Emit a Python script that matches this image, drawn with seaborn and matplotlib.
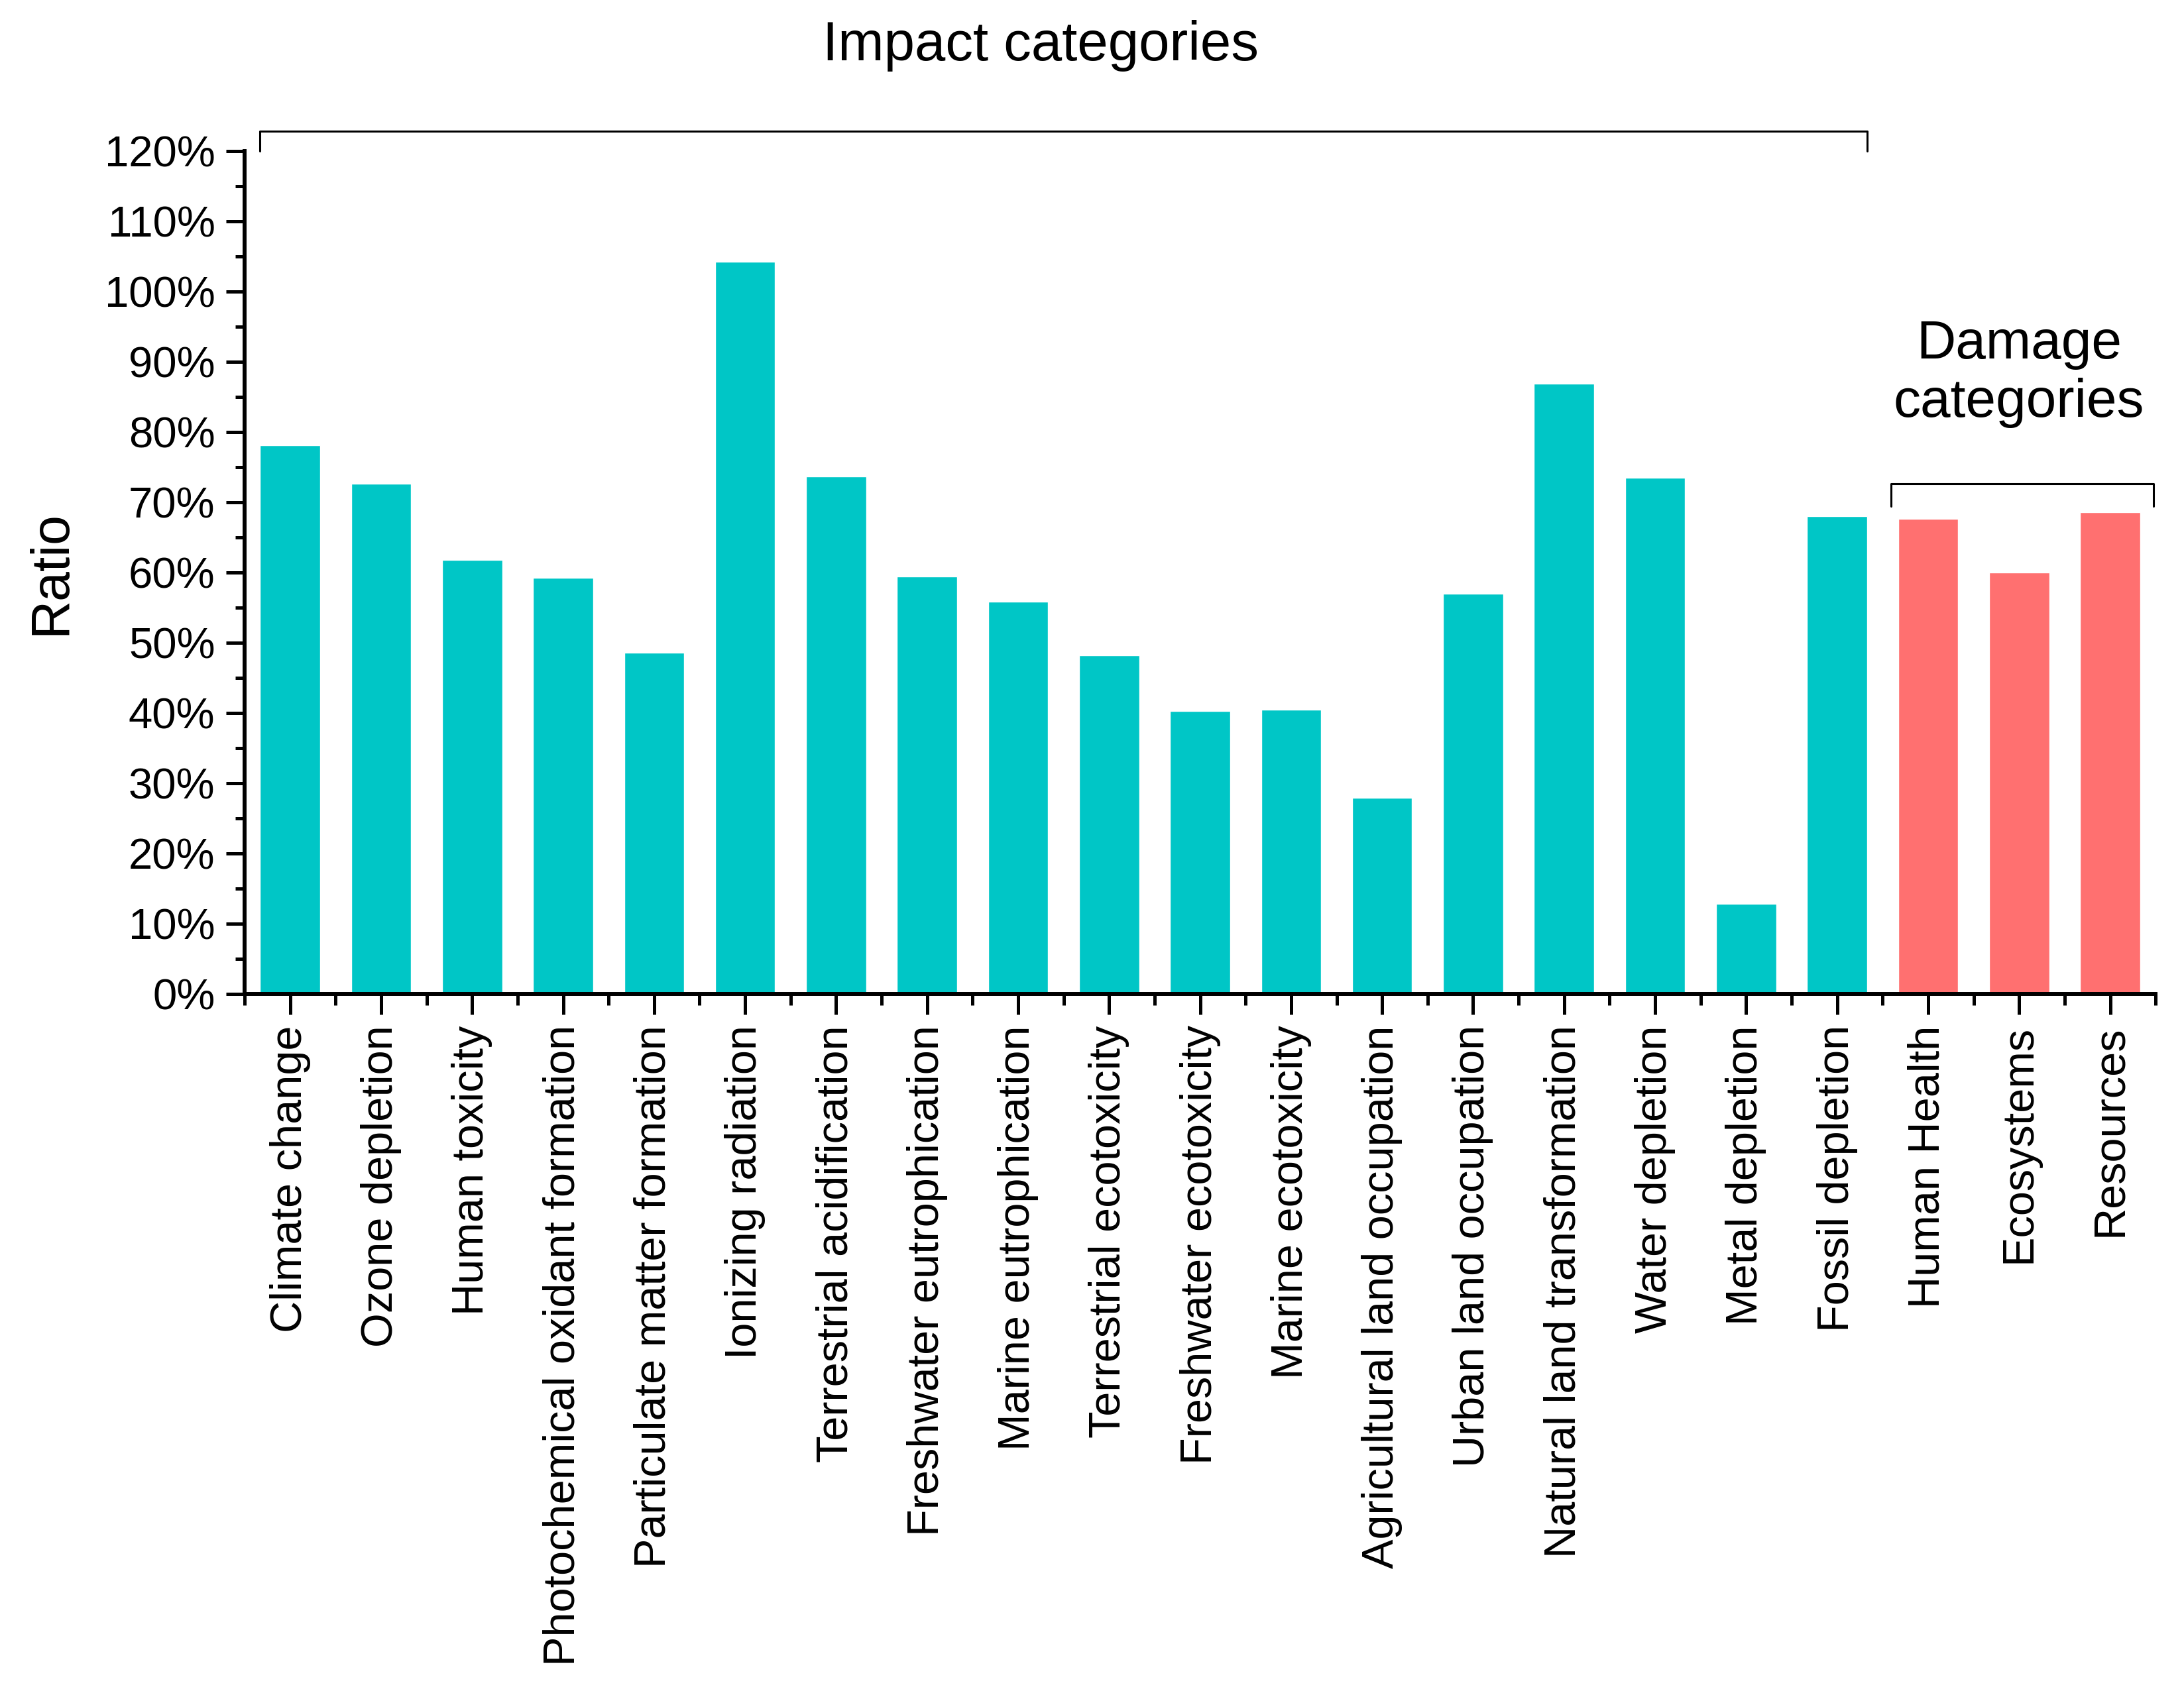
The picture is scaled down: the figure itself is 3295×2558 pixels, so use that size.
import numpy as np
import pandas as pd
import matplotlib
matplotlib.use("Agg")
import matplotlib.pyplot as plt
from matplotlib.ticker import PercentFormatter, FixedLocator, MultipleLocator
import seaborn as sns

# ─── Data ─────────────────────────────────────────────────────────────────────
categories = [
    "Climate change", "Ozone depletion", "Human toxicity",
    "Photochemical oxidant formation", "Particulate matter formation",
    "Ionizing radiation", "Terrestrial acidification",
    "Freshwater eutrophication", "Marine eutrophication",
    "Terrestrial ecotoxicity", "Freshwater ecotoxicity", "Marine ecotoxicity",
    "Agricultural land occupation", "Urban land occupation",
    "Natural land transformation", "Water depletion", "Metal depletion",
    "Fossil depletion", "Human Health", "Ecosystems", "Resources",
]
ratios = [
    0.781, 0.726, 0.618, 0.592, 0.486, 1.042, 0.737, 0.594, 0.558, 0.482,
    0.403, 0.405, 0.279, 0.570, 0.869, 0.735, 0.128, 0.680,
    0.676, 0.600, 0.686,
]
groups = ["Impact"] * 18 + ["Damage"] * 3
group_colors = {"Impact": "#00C6C6", "Damage": "#FF7070"}

df = pd.DataFrame({"category": categories, "ratio": ratios, "group": groups})

# ─── Style ────────────────────────────────────────────────────────────────────
sns.set_style("ticks")
plt.rcParams["font.family"] = ["Liberation Sans", "DejaVu Sans"]
plt.rcParams.update({
    "text.color": "black", "axes.labelcolor": "black",
    "xtick.color": "black", "ytick.color": "black",
    "axes.edgecolor": "black",
})

fig = plt.figure(figsize=(32.95, 25.58), dpi=100)
ax = fig.add_axes([0.112, 0.4136, 0.875, 0.4973])

sns.barplot(data=df, x="category", y="ratio", hue="group",
            palette=group_colors, dodge=False, width=0.66,
            legend=False, ax=ax, saturation=1)

ax.set_xlim(-0.5, len(categories) - 0.5)
ax.set_ylim(0, 1.2)
ax.yaxis.set_major_locator(MultipleLocator(0.1))
ax.yaxis.set_minor_locator(MultipleLocator(0.05))
ax.yaxis.set_major_formatter(PercentFormatter(xmax=1, decimals=0))
ax.xaxis.set_minor_locator(FixedLocator(np.arange(-0.5, len(categories), 1.0)))

ax.set_xlabel("")
ax.set_ylabel("Ratio", fontsize=58)
ax.yaxis.set_label_coords(-0.088, 0.5)

ax.tick_params(axis="y", which="major", labelsize=47, length=20, width=3.6, pad=12)
ax.tick_params(axis="y", which="minor", length=10, width=3.6)
ax.tick_params(axis="x", which="major", labelsize=48, length=22, width=3.6,
               pad=12, labelrotation=90)
ax.tick_params(axis="x", which="minor", length=12, width=3.6)

for side in ["top", "right"]:
    ax.spines[side].set_visible(False)
for side in ["left", "bottom"]:
    ax.spines[side].set_linewidth(4.3)

# ─── Brackets and group labels ────────────────────────────────────────────────
ax.plot([-0.33, -0.33, 17.33, 17.33], [1.200, 1.228, 1.228, 1.200],
        color="black", lw=2.2, clip_on=False)
ax.text(8.25, 1.35, "Impact categories", ha="center", va="center",
        fontsize=60, clip_on=False)

ax.plot([17.59, 17.59, 20.48, 20.48], [0.694, 0.726, 0.726, 0.694],
        color="black", lw=2.2, clip_on=False)
ax.text(19.0, 0.883, "Damage\ncategories", ha="center", va="center",
        fontsize=59, linespacing=1.2, clip_on=False)

fig.savefig("out.png", dpi=100)
plt.close(fig)
